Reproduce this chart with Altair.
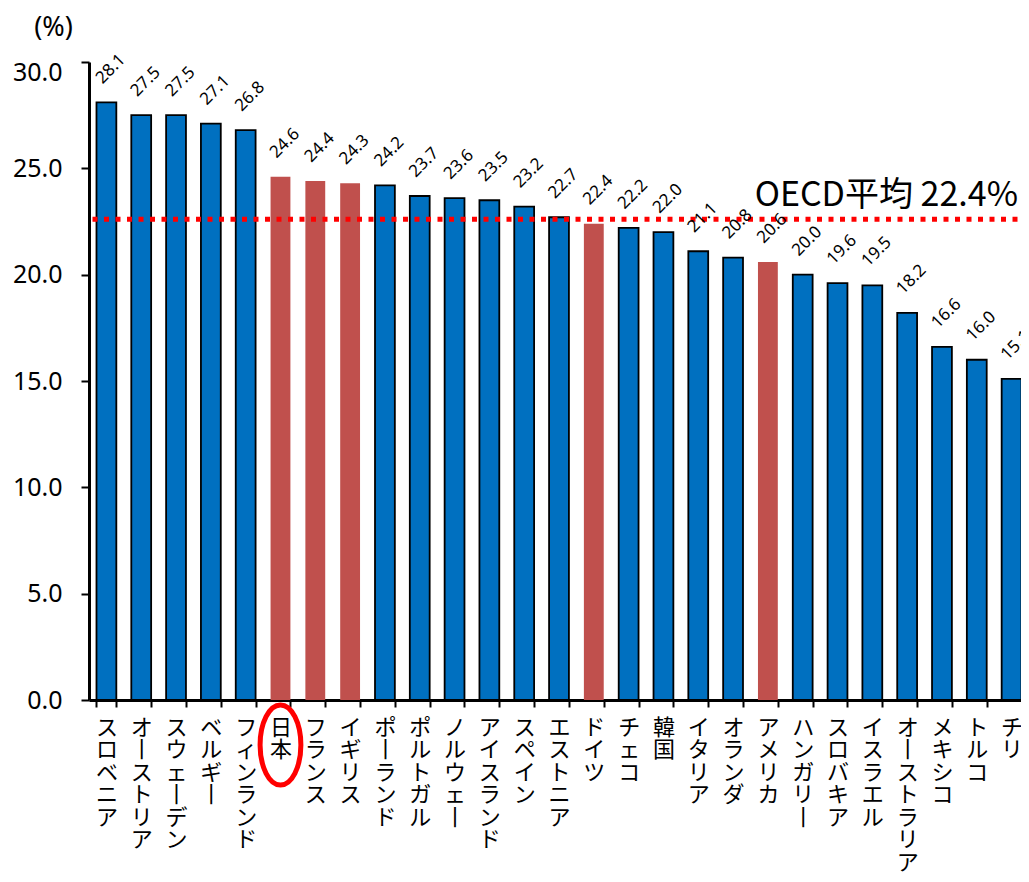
import altair as alt
import pandas as pd

# ---- data ----
countries = ["スロベニア", "オーストリア", "スウェーデン", "ベルギー", "フィンランド", "日本",
             "フランス", "イギリス", "ポーランド", "ポルトガル", "ノルウェー", "アイスランド",
             "スペイン", "エストニア", "ドイツ", "チェコ", "韓国", "イタリア", "オランダ",
             "アメリカ", "ハンガリー", "スロバキア", "イスラエル", "オーストラリア",
             "メキシコ", "トルコ", "チリ"]
values = [28.1, 27.5, 27.5, 27.1, 26.8, 24.6, 24.4, 24.3, 24.2, 23.7, 23.6, 23.5, 23.2,
          22.7, 22.4, 22.2, 22.0, 21.1, 20.8, 20.6, 20.0, 19.6, 19.5, 18.2, 16.6, 16.0, 15.1]
highlight = ["日本", "フランス", "イギリス", "ドイツ", "アメリカ"]
circled = ["日本"]
oecd_line_value = [22.6]
oecd_label = ["OECD平均 22.4%"]
y_ticks = [0, 5, 10, 15, 20, 25, 30]
y_title = "(%)"

# ---- layout ----
PLOT_W = 940
PLOT_H = 638

df = pd.DataFrame({
    "country": countries,
    "value": values,
    "group": ["hl" if c in highlight else "base" for c in countries],
})
oecd_df = pd.DataFrame({"y": oecd_line_value, "label": oecd_label})

x_enc = alt.X(
    "country:N", sort=countries,
    scale=alt.Scale(paddingInner=0.43, paddingOuter=0.215),
    axis=alt.Axis(
        title=None, labelAngle=0,
        labelExpr="split(replace(datum.label, 'ー', '丨'), '')",
        labelFont="Noto Sans CJK JP", labelFontSize=22, labelLineHeight=22.5,
        labelBaseline="top", labelAlign="center", labelPadding=10,
        labelColor="black", labelOverlap=False,
        tickSize=7, tickWidth=2, tickColor="black", tickBand="extent",
        domainColor="black", domainWidth=3,
    ),
)
y_enc = alt.Y(
    "value:Q",
    scale=alt.Scale(domain=[0, 30], nice=False),
    axis=alt.Axis(
        values=y_ticks, format=".1f", grid=False,
        title=y_title, titleAngle=0, titleX=-36, titleY=-35,
        titleAlign="center", titleBaseline="middle",
        titleFont="Noto Sans", titleFontSize=27, titleFontWeight="normal",
        titleColor="black",
        labelFont="Noto Sans", labelFontSize=25, labelColor="black",
        labelPadding=19,
        labelBaseline={"condition": {"test": "datum.value >= 30", "value": "top"},
                       "value": "middle"},
        labelOffset={"condition": {"test": "datum.value >= 30", "value": -2},
                     "value": 0},
        tickSize=8, tickWidth=2, tickColor="black",
        domainColor="black", domainWidth=3,
    ),
)

base = alt.Chart(df)

bars = base.mark_bar().encode(
    x=x_enc,
    y=y_enc,
    color=alt.Color("group:N", scale=alt.Scale(domain=["base", "hl"],
                                                range=["#0070C0", "#C0504D"]),
                    legend=None),
    stroke=alt.value("black"),
    strokeWidth=alt.condition(alt.datum.group == "base", alt.value(1.8), alt.value(0)),
)

labels = base.mark_text(
    align="left", baseline="alphabetic", angle=315,
    font="Noto Sans", fontSize=17, color="black", dx=9.9, dy=-15.6,
).encode(
    x=alt.X("country:N", sort=countries),
    y=alt.Y("value:Q"),
    text=alt.Text("value:Q", format=".1f"),
)

rule = alt.Chart(oecd_df).mark_rule(
    color="#FF0000", strokeWidth=5, strokeDash=[5, 6.5], strokeCap="butt"
).encode(y=alt.Y("y:Q"))

oecd_text = alt.Chart(oecd_df).mark_text(
    align="right", baseline="alphabetic", dy=-13,
    font="Noto Sans CJK JP", fontSize=34, color="black",
).encode(y=alt.Y("y:Q"), x=alt.value(PLOT_W - 11), text="label:N")

ellipse = base.transform_filter(
    alt.FieldOneOfPredicate(field="country", oneOf=circled)
).mark_point(
    shape="M -0.51 0 A 0.51 1 0 1 0 0.51 0 A 0.51 1 0 1 0 -0.51 0 Z",
    size=6400, filled=False, color="#FF0000", strokeWidth=5, opacity=1,
).encode(
    x=alt.X("country:N", sort=countries),
    y=alt.value(PLOT_H + 45),
)

# The plot area runs past the right edge of the window, as in the reference;
# a negative right padding keeps the page itself from overflowing.
chart = alt.layer(bars, rule, labels, oecd_text, ellipse).properties(
    width=PLOT_W, height=PLOT_H,
    autosize=alt.AutoSizeParams(type="none"),
    padding={"left": 81, "top": 54, "right": -8, "bottom": 174},
    background="white",
).configure_view(stroke=None)

chart.save("out.html", embed_options={"renderer": "svg", "actions": False})
